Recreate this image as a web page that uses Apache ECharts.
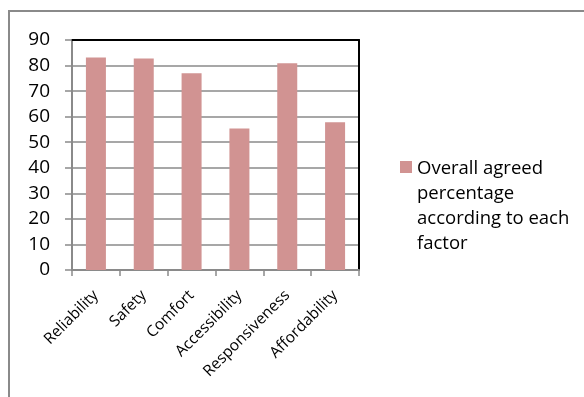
<!DOCTYPE html>
<html>
<head>
<meta charset="utf-8">
<script src="https://cdn.jsdelivr.net/npm/echarts@6/dist/echarts.min.js"></script>
<style>html,body{margin:0;padding:0;background:#fff}#c{width:584px;height:397px}</style>
</head>
<body>
<div id="c"></div>
<script>
const categories = ['Reliability', 'Safety', 'Comfort', 'Accessibility', 'Responsiveness', 'Affordability'];
const values = [83.2, 82.8, 77.0, 55.4, 80.9, 57.8];
const seriesName = 'Overall agreed percentage according to each factor';
const legendLines = ['Overall agreed', 'percentage', 'according to each', 'factor'];
const yTicks = { min: 0, max: 90, interval: 10 };

const FONT = 'Open Sans';
const BAR_COLOR = '#d19392';
const chart = echarts.init(document.getElementById('c'));
chart.setOption({
  animation: false,
  textStyle: { fontFamily: FONT },
  graphic: [{
    type: 'rect', silent: true,
    shape: { x: 9, y: 11, width: 800, height: 600 },
    style: { fill: 'none', stroke: '#8a8a8a', lineWidth: 2 }
  }, {
    type: 'rect', silent: true,
    shape: { x: 400, y: 161, width: 12, height: 12 },
    style: { fill: BAR_COLOR }
  }, {
    type: 'text', silent: true, x: 417, y: 156,
    style: { text: legendLines.join('\n'), fontSize: 18.5, lineHeight: 25, fill: '#000', fontFamily: FONT, verticalAlign: 'top' }
  }],
  grid: { left: 72, top: 40, width: 287, height: 230, containLabel: false },
  legend: { show: false },
  xAxis: [{
    type: 'category', data: categories, position: 'bottom',
    axisLine: { lineStyle: { color: '#8a8a8a', width: 2 } },
    axisTick: { show: true, length: 6, lineStyle: { color: '#8a8a8a', width: 1.5 } },
    axisLabel: { rotate: 45, fontSize: 15.5, color: '#000', margin: 23, fontFamily: FONT, interval: 0 }
  }, {
    type: 'category', data: categories, position: 'top',
    axisLine: { onZero: false, lineStyle: { color: '#000', width: 2 } },
    axisTick: { show: false }, axisLabel: { show: false }
  }],
  yAxis: [{
    type: 'value', min: yTicks.min, max: yTicks.max, interval: yTicks.interval,
    axisLine: { show: true, onZero: false, lineStyle: { color: '#8a8a8a', width: 2 } },
    axisTick: { show: true, length: 7, lineStyle: { color: '#8a8a8a', width: 1.5 } },
    axisLabel: { fontSize: 19, color: '#000', margin: 22, fontFamily: FONT },
    splitLine: { show: true, showMaxLine: false, lineStyle: { color: '#8a8a8a', width: 1.5 } }
  }, {
    type: 'value', min: yTicks.min, max: yTicks.max, interval: yTicks.interval, position: 'right',
    axisLine: { show: true, onZero: false, lineStyle: { color: '#000', width: 2 } },
    axisTick: { show: false }, axisLabel: { show: false }, splitLine: { show: false }
  }],
  series: [{
    name: seriesName, type: 'bar', data: values, barWidth: 20,
    itemStyle: { color: BAR_COLOR }
  }]
});
</script>
</body>
</html>
